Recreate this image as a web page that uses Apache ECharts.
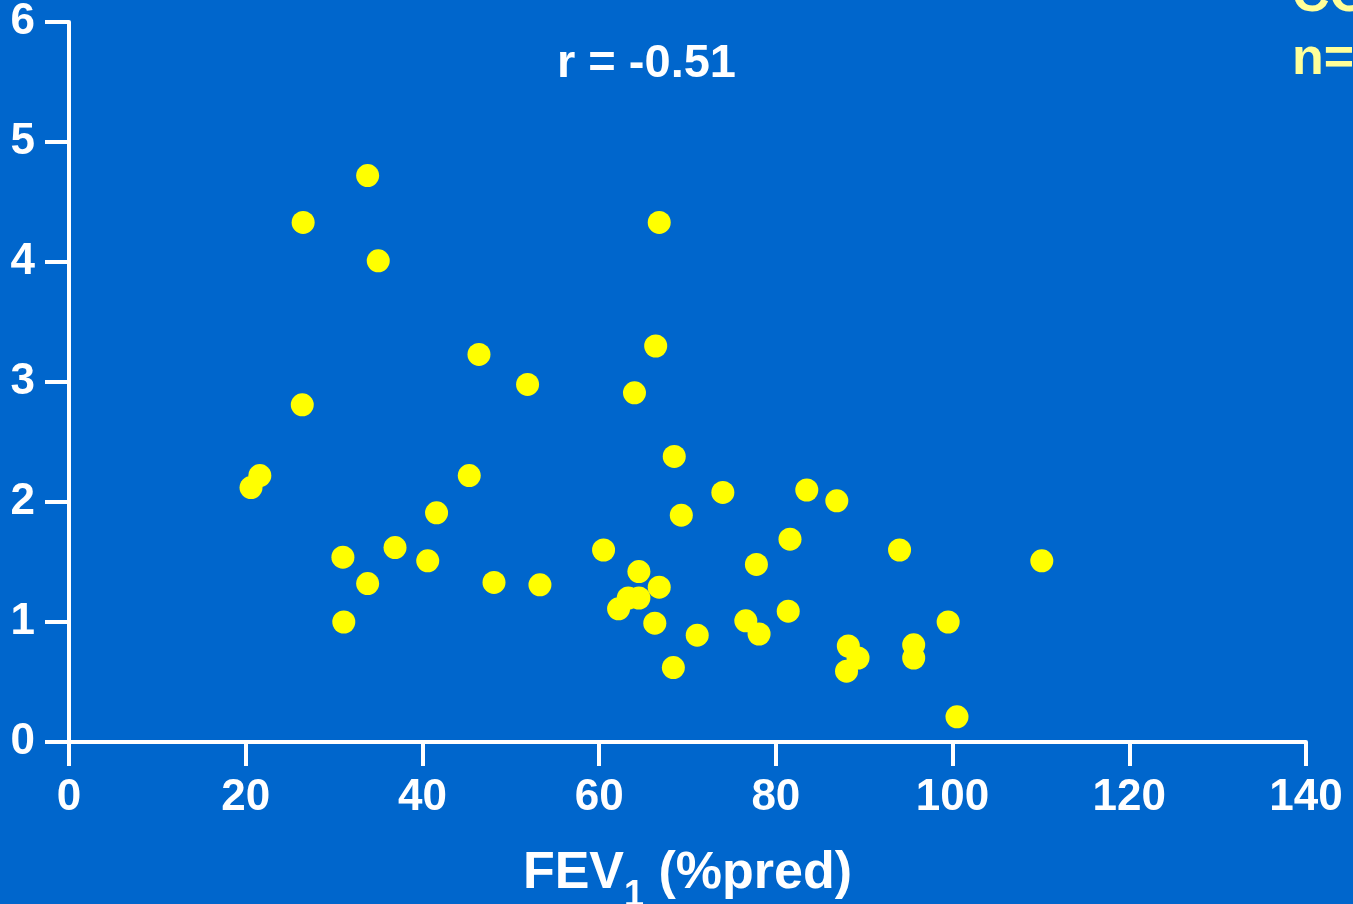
<!DOCTYPE html>
<html>
<head>
<meta charset="utf-8">
<script src="https://cdn.jsdelivr.net/npm/echarts@6/dist/echarts.min.js"></script>
<style>
html,body{margin:0;padding:0;background:#0066CC;}
#chart{width:1353px;height:904px;}
</style>
</head>
<body>
<div id="chart"></div>
<script>
const fevPred = [20.6, 21.6, 26.5, 26.4, 33.8, 35.0, 31.0, 33.8, 31.1, 36.9, 40.6, 41.6, 45.3, 46.4, 48.1, 51.9, 53.3, 60.5, 62.2, 63.3, 64.5, 64.5, 64.0, 66.4, 66.8, 66.8, 66.3, 68.5, 69.3, 68.4, 71.1, 74.0, 76.6, 77.8, 78.1, 81.4, 81.6, 83.5, 86.9, 88.2, 89.3, 88.0, 94.0, 95.6, 95.6, 99.5, 100.5, 110.1];
const yValues = [2.12, 2.22, 4.33, 2.81, 4.72, 4.01, 1.54, 1.32, 1.00, 1.62, 1.51, 1.91, 2.22, 3.23, 1.33, 2.98, 1.31, 1.60, 1.11, 1.20, 1.42, 1.20, 2.91, 3.30, 4.33, 1.29, 0.99, 2.38, 1.89, 0.62, 0.89, 2.08, 1.01, 1.48, 0.90, 1.09, 1.69, 2.10, 2.01, 0.80, 0.70, 0.59, 1.60, 0.81, 0.70, 1.00, 0.21, 1.51];
const xTicks = [0, 20, 40, 60, 80, 100, 120, 140];
const yTicks = [0, 1, 2, 3, 4, 5, 6];
const corrText = 'r = -0.51';
const groupLines = ['COPD', 'n='];

const points = fevPred.map((x, i) => [x, yValues[i]]);
const FONT = '"Liberation Sans", Arial, sans-serif';

const chart = echarts.init(document.getElementById('chart'));
chart.setOption({
  backgroundColor: '#0066CC',
  animation: false,
  grid: { left: 69, right: 47, top: 22, bottom: 162, containLabel: false, outerBoundsMode: 'none' },
  xAxis: {
    type: 'value',
    min: xTicks[0], max: xTicks[xTicks.length - 1], interval: 20,
    splitLine: { show: false },
    axisLine: { show: true, lineStyle: { color: '#fff', width: 4 } },
    axisTick: { show: true, length: 24, lineStyle: { color: '#fff', width: 4 } },
    axisLabel: { color: '#fff', fontSize: 44, fontWeight: 'bold', fontFamily: FONT, margin: 34 },
    name: '{a|FEV}{s|1}{a| (%pred)}',
    nameLocation: 'middle',
    nameGap: 92,
    nameTextStyle: {
      rich: {
        a: { color: '#fff', fontSize: 52, fontWeight: 'bold', fontFamily: FONT, verticalAlign: 'middle' },
        s: { color: '#fff', fontSize: 36, fontWeight: 'bold', fontFamily: FONT, verticalAlign: 'bottom', padding: [44, 0, 0, 0] }
      }
    }
  },
  yAxis: {
    type: 'value',
    min: yTicks[0], max: yTicks[yTicks.length - 1], interval: 1,
    splitLine: { show: false },
    axisLine: { show: true, lineStyle: { color: '#fff', width: 4 } },
    axisTick: { show: true, length: 24, lineStyle: { color: '#fff', width: 4 } },
    axisLabel: { color: '#fff', fontSize: 44, fontWeight: 'bold', fontFamily: FONT, margin: 34, padding: [10, 0, 0, 0] }
  },
  series: [{
    type: 'scatter',
    data: points,
    symbol: 'circle',
    symbolSize: 23,
    itemStyle: { color: '#FFFF00', opacity: 1 },
    silent: true
  }],
  graphic: [
    {
      type: 'text', left: 557, top: 41,
      style: { text: corrText, fill: '#fff', font: 'bold 47px ' + FONT }
    },
    {
      type: 'text', left: 1292, top: -29,
      style: { text: groupLines[0], fill: '#FFFF99', font: 'bold 52px ' + FONT }
    },
    {
      type: 'text', left: 1292, top: 34,
      style: { text: groupLines[1], fill: '#FFFF99', font: 'bold 52px ' + FONT }
    }
  ]
});
</script>
</body>
</html>
